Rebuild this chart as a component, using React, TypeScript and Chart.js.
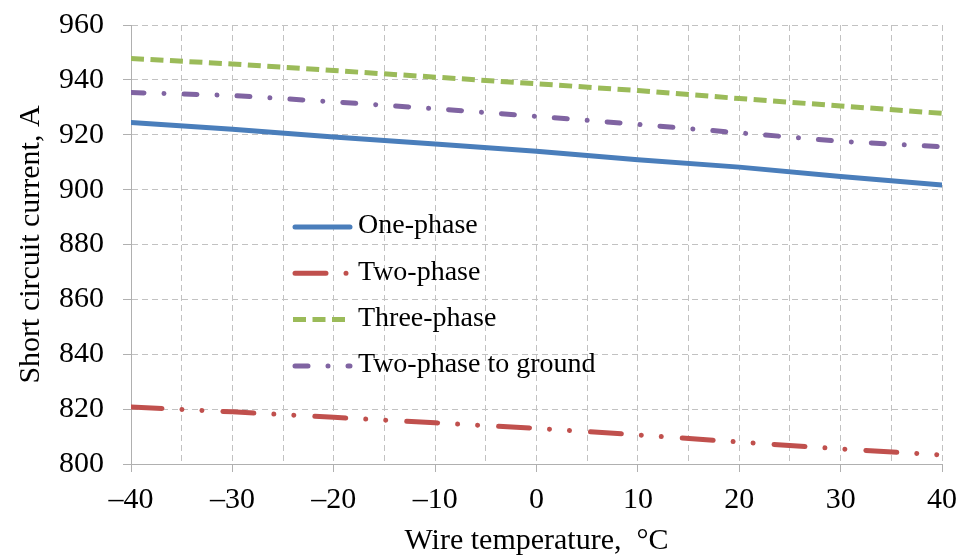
import React, { useEffect, useRef } from 'react';
import { Chart, registerables } from 'chart.js';

Chart.register(...registerables);

// ---- data ----
const temperatures = [-40, -30, -20, -10, 0, 10, 20, 30, 40];
const onePhase = [924.5, 922.0, 919.2, 916.6, 914.0, 910.9, 908.2, 904.8, 901.7];
const twoPhase = [820.8, 819.0, 817.0, 815.0, 813.0, 810.6, 808.0, 805.5, 803.3];
const threePhase = [947.8, 945.8, 943.4, 941.0, 938.6, 936.1, 933.2, 930.5, 927.8];
const twoPhaseGround = [935.4, 934.3, 932.0, 929.5, 926.7, 923.8, 920.7, 917.6, 915.6];
const seriesNames = ['One-phase', 'Two-phase', 'Three-phase', 'Two-phase to ground'];

const xTickValues = [-40, -30, -20, -10, 0, 10, 20, 30, 40];
const xTickLabels = ['\u201340', '\u201330', '\u201320', '\u201310', '0', '10', '20', '30', '40'];
const yTickValues = [800, 820, 840, 860, 880, 900, 920, 940, 960];
const yTickLabels = ['800', '820', '840', '860', '880', '900', '920', '940', '960'];

const xTitle = 'Wire temperature,  \u00B0C';
const yTitle = 'Short circuit current, A';

const FONT = '"Liberation Serif", "Times New Roman", serif';
const GRID = '#c2c2c2';
const AXIS = '#b0b0b0';

const legendPlugin = {
  id: 'insideLegend',
  afterDraw(chart: any) {
    const { ctx, chartArea } = chart;
    const x0 = chartArea.left + 162;
    const x1 = x0 + 57;
    const tx = x1 + 8;
    const y0 = chartArea.top + 202;
    const step = 46.3;
    ctx.save();
    chart.data.datasets.forEach((ds: any, i: number) => {
      const y = y0 + i * step;
      ctx.beginPath();
      ctx.lineWidth = ds.borderWidth;
      ctx.strokeStyle = ds.borderColor;
      ctx.lineCap = ds.borderCapStyle || 'butt';
      ctx.setLineDash(ds.borderDash || []);
      ctx.lineDashOffset = 0;
      ctx.moveTo(x0 + (ds.borderCapStyle === 'round' ? 2 : 0), y);
      ctx.lineTo(x1, y);
      ctx.stroke();
      ctx.setLineDash([]);
      ctx.fillStyle = '#000';
      ctx.font = `28px ${FONT}`;
      ctx.textAlign = 'left';
      ctx.textBaseline = 'middle';
      ctx.fillText(ds.label, tx, y - 1);
    });
    ctx.restore();
  },
};

export default function App() {
  const ref = useRef<HTMLCanvasElement | null>(null);

  useEffect(() => {
    if (!ref.current) return;
    const mk = (vals: number[]) => temperatures.map((t, i) => ({ x: t, y: vals[i] }));
    const chart = new Chart(ref.current, {
      type: 'line',
      data: {
        datasets: [
          {
            label: seriesNames[0],
            data: mk(onePhase),
            borderColor: '#4A7EBB',
            borderWidth: 5,
            borderCapStyle: 'round',
            pointRadius: 0,
            tension: 0,
          },
          {
            label: seriesNames[1],
            data: mk(twoPhase),
            borderColor: '#C0504D',
            borderWidth: 5,
            borderCapStyle: 'round',
            borderDash: [31, 20, 0.01, 20, 0.01, 21],
            pointRadius: 0,
            tension: 0,
          },
          {
            label: seriesNames[2],
            data: mk(threePhase),
            borderColor: '#9BBB59',
            borderWidth: 5,
            borderCapStyle: 'butt',
            borderDash: [13, 6.5],
            pointRadius: 0,
            tension: 0,
          },
          {
            label: seriesNames[3],
            data: mk(twoPhaseGround),
            borderColor: '#8064A2',
            borderWidth: 5,
            borderCapStyle: 'round',
            borderDash: [13, 20, 0.01, 20],
            pointRadius: 0,
            tension: 0,
          },
        ] as any,
      },
      options: {
        animation: false,
        responsive: true,
        maintainAspectRatio: false,
        layout: { padding: { top: 25, right: 23, left: 0, bottom: 0 } },
        plugins: { legend: { display: false }, tooltip: { enabled: false } },
        scales: {
          x: {
            type: 'linear',
            min: -40,
            max: 40,
            afterFit: (s: any) => {
              s.height = 92;
              s.paddingLeft = 0;
              s.paddingRight = 0;
              s.paddingTop = 0;
              s.paddingBottom = 0;
            },
            ticks: {
              stepSize: 5,
              autoSkip: false,
              maxRotation: 0,
              padding: 10,
              color: '#000',
              font: { family: FONT, size: 30 },
              callback: (v: any) => {
                const i = xTickValues.indexOf(Number(v));
                return i >= 0 ? xTickLabels[i] : '';
              },
            },
            grid: {
              color: GRID,
              lineWidth: 1,
              tickLength: 8,
              tickColor: (c: any) => (c.tick && Number(c.tick.value) % 10 === 0 ? AXIS : 'rgba(0,0,0,0)'),
            },
            border: { display: true, color: AXIS, width: 1, dash: [6, 4] },
            title: {
              display: true,
              text: xTitle,
              color: '#000',
              font: { family: FONT, size: 30, lineHeight: 1 },
              padding: { top: 0, bottom: 0 },
            },
          },
          y: {
            type: 'linear',
            min: 800,
            max: 960,
            afterFit: (s: any) => {
              s.width = 131;
              s.paddingLeft = 0;
              s.paddingRight = 0;
              s.paddingTop = 0;
              s.paddingBottom = 0;
            },
            ticks: {
              stepSize: 20,
              padding: 19,
              color: '#000',
              font: { family: FONT, size: 30 },
              callback: (v: any) => {
                const i = yTickValues.indexOf(Number(v));
                return i >= 0 ? yTickLabels[i] : '';
              },
            },
            grid: { color: GRID, lineWidth: 1, tickLength: 8, tickColor: AXIS },
            border: { display: true, color: AXIS, width: 1, dash: [6, 4] },
            title: {
              display: true,
              text: yTitle,
              color: '#000',
              font: { family: FONT, size: 30, lineHeight: 1 },
              padding: { top: 16, bottom: 0 },
            },
          },
        },
      } as any,
      plugins: [legendPlugin],
    });
    return () => chart.destroy();
  }, []);

  return (
    <div style={{ position: 'absolute', left: 0, top: 0, width: 965, height: 556, background: '#fff' }}>
      <canvas ref={ref} />
    </div>
  );
}
